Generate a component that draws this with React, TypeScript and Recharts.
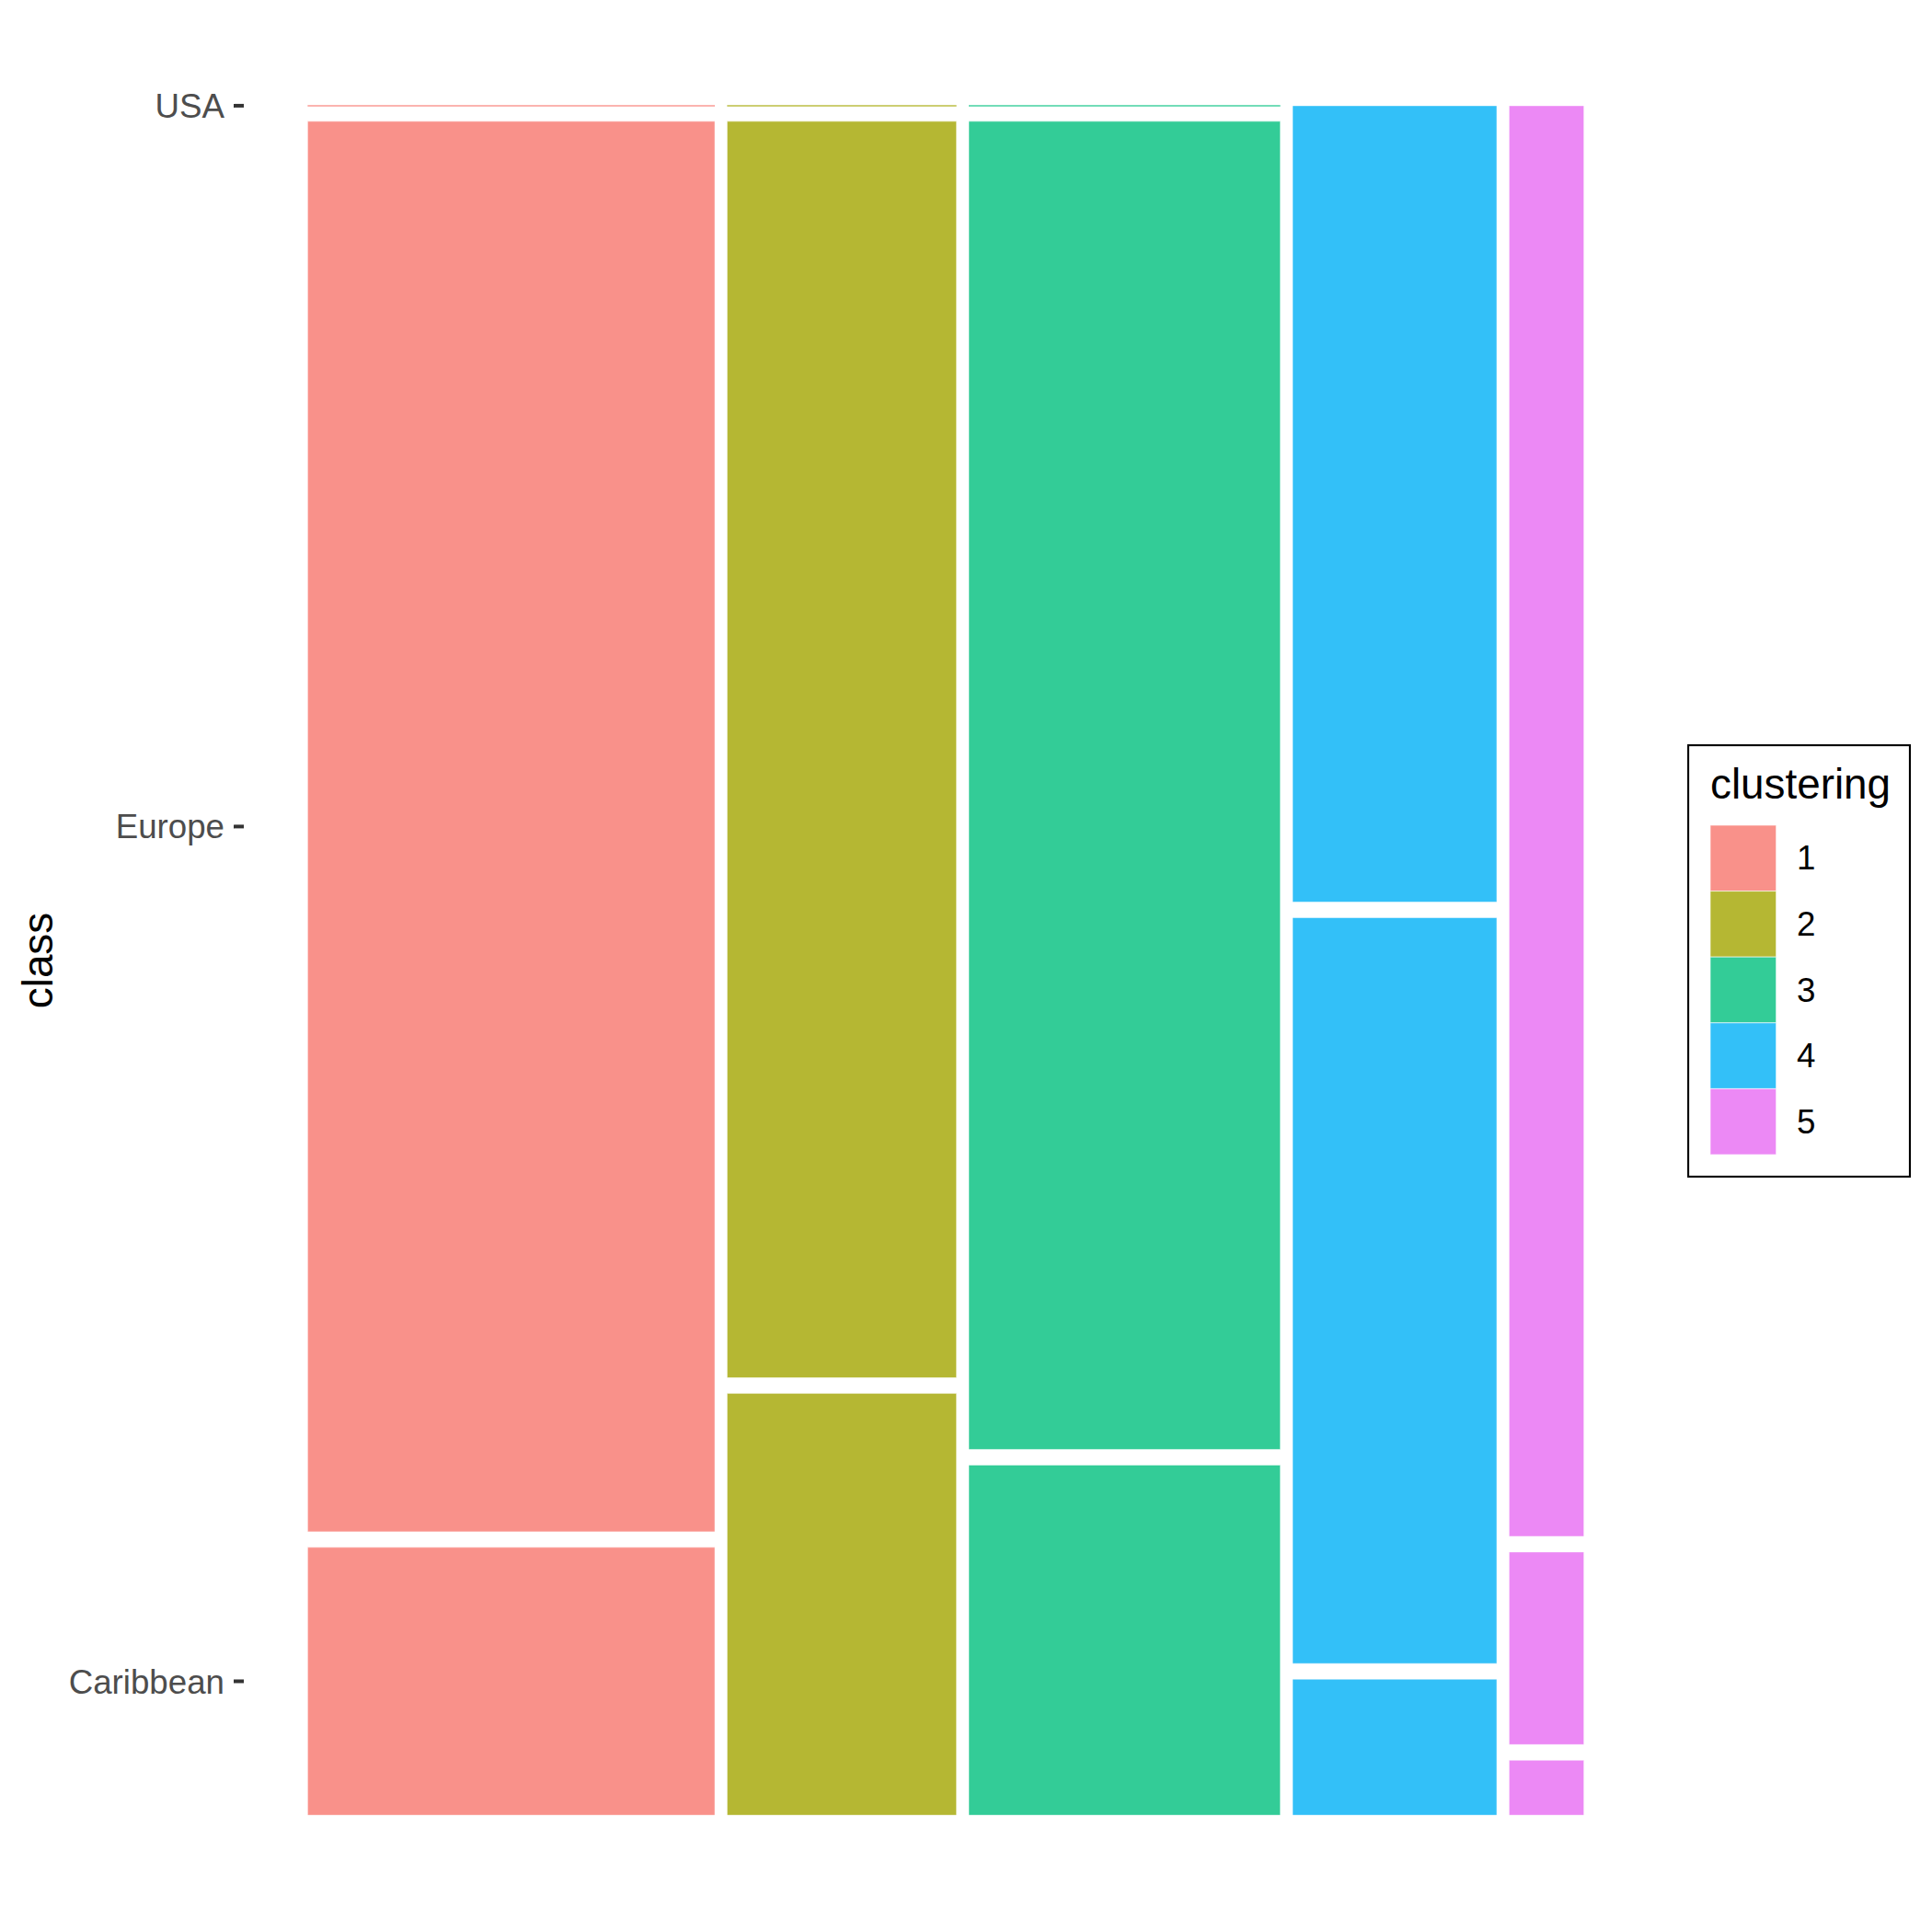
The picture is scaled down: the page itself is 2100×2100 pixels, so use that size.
import React from 'react';
import { ComposedChart, XAxis, YAxis, ReferenceArea, ReferenceLine, Legend, Label } from 'recharts';

// ---- data ----
const clusters = ['1', '2', '3', '4', '5'];
const classLabels = ['USA', 'Europe', 'Caribbean'];
const usaCounts = [0, 0, 0, 79, 52];
const europeCounts = [279, 140, 201, 74, 7];
const caribbeanCounts = [53, 47, 53, 13.5, 2];
const clusterColors = ['#F8766D', '#A3A500', '#00BF7D', '#00B0F6', '#E76BF3'];

const X_GAP = 0.01;
const Y_GAP = 0.0093;
const EXPAND = 0.05;
const FONT = '"Liberation Sans", Arial, Helvetica, sans-serif';

const totals = clusters.map((_, i) => usaCounts[i] + europeCounts[i] + caribbeanCounts[i]);
const grand = totals.reduce((a, b) => a + b, 0);

type Cell = { cluster: number; cls: string; x0: number; x1: number; y0: number; y1: number; count: number };

const cells: Cell[] = [];
{
  let xCursor = 0;
  clusters.forEach((_, i) => {
    const w = totals[i] / grand;
    const x0 = xCursor;
    const x1 = xCursor + w;
    // stack from bottom: Caribbean, Europe, USA
    const stack = [
      { cls: 'Caribbean', count: caribbeanCounts[i] },
      { cls: 'Europe', count: europeCounts[i] },
      { cls: 'USA', count: usaCounts[i] },
    ];
    let yCursor = 0;
    stack.forEach((s, k) => {
      const h = s.count / totals[i];
      cells.push({ cluster: i, cls: s.cls, x0, x1, y0: yCursor, y1: yCursor + h, count: s.count });
      yCursor += h + (k < stack.length - 1 ? Y_GAP : 0);
    });
    xCursor = x1 + X_GAP;
  });
}

const xMax = 1 + (clusters.length - 1) * X_GAP;
const yMax = 1 + (classLabels.length - 1) * Y_GAP;
const xDomain = [-EXPAND * xMax, xMax * (1 + EXPAND)];
const yDomain = [-EXPAND * yMax, yMax * (1 + EXPAND)];

// y ticks at the centres of the first column's segments
const firstCol = cells.filter((c) => c.cluster === 0);
const tickEntries = firstCol.map((c) => ({ value: (c.y0 + c.y1) / 2, label: c.cls }));
const tickValues = tickEntries.map((t) => t.value);

const tickFormat = (v: number) => {
  let best = tickEntries[0];
  tickEntries.forEach((t) => {
    if (Math.abs(t.value - v) < Math.abs(best.value - v)) best = t;
  });
  return best.label;
};

const LegendBox = () => {
  const key = 71.6;
  return (
    <svg width={243} height={471} style={{ display: 'block' }}>
      <rect x={1} y={1} width={241} height={469} fill="#ffffff" stroke="#000000" strokeWidth={2.2} />
      <text x={25} y={59} fontSize={45.8} fontFamily={FONT} fill="#000000">
        clustering
      </text>
      {clusters.map((c, i) => (
        <g key={c}>
          <rect
            x={25}
            y={88 + i * key}
            width={key}
            height={key}
            fill={clusterColors[i]}
            fillOpacity={0.8}
            stroke="#ffffff"
            strokeOpacity={0.6}
            strokeWidth={1}
          />
          <text
            x={119}
            y={88 + i * key + key / 2}
            fontSize={36.7}
            fontFamily={FONT}
            fill="#000000"
            dominantBaseline="central"
          >
            {c}
          </text>
        </g>
      ))}
    </svg>
  );
};

const YTitle = (props: any) => {
  const vb = props.viewBox || { x: 0, y: 22, width: 265, height: 2044 };
  const cx = vb.x + 57;
  const cy = vb.y + vb.height / 2;
  return (
    <text
      x={cx}
      y={cy}
      transform={`rotate(-90 ${cx} ${cy})`}
      textAnchor="middle"
      fontSize={45.8}
      fontFamily={FONT}
      fill="#000000"
    >
      class
    </text>
  );
};

export default function App() {
  return (
    <div style={{ position: 'absolute', left: 0, top: 0, width: 2100, height: 2100, background: '#ffffff' }}>
      <ComposedChart
        width={2100}
        height={2100}
        data={cells}
        margin={{ top: 22, right: 309, bottom: 34, left: 0 }}
      >
        <XAxis type="number" dataKey="x0" domain={xDomain} hide allowDataOverflow />
        <YAxis
          type="number"
          domain={yDomain}
          allowDataOverflow
          ticks={tickValues}
          interval={0}
          tickFormatter={tickFormat}
          width={265}
          tickSize={11}
          tickMargin={10}
          axisLine={false}
          tickLine={{ stroke: '#333333', strokeWidth: 4 }}
          tick={{ fill: '#4D4D4D', fontSize: 36.7, fontFamily: FONT }}
        >
          <Label content={YTitle} />
        </YAxis>
        {cells.map((c, idx) =>
          c.count > 0 ? (
            <ReferenceArea
              key={`a${idx}`}
              x1={c.x0}
              x2={c.x1}
              y1={c.y0}
              y2={c.y1}
              fill={clusterColors[c.cluster]}
              fillOpacity={0.8}
              stroke="#ffffff"
              strokeOpacity={0.5}
              strokeWidth={1}
              ifOverflow="visible"
            />
          ) : (
            <ReferenceLine
              key={`l${idx}`}
              segment={[
                { x: c.x0, y: c.y0 },
                { x: c.x1, y: c.y0 },
              ]}
              stroke={clusterColors[c.cluster]}
              strokeOpacity={0.55}
              strokeWidth={2}
              ifOverflow="visible"
            />
          )
        )}
        <Legend
          layout="vertical"
          align="center"
          verticalAlign="middle"
          content={LegendBox}
          wrapperStyle={{ left: 1834, top: 809, width: 243, height: 471 }}
        />
      </ComposedChart>
    </div>
  );
}
